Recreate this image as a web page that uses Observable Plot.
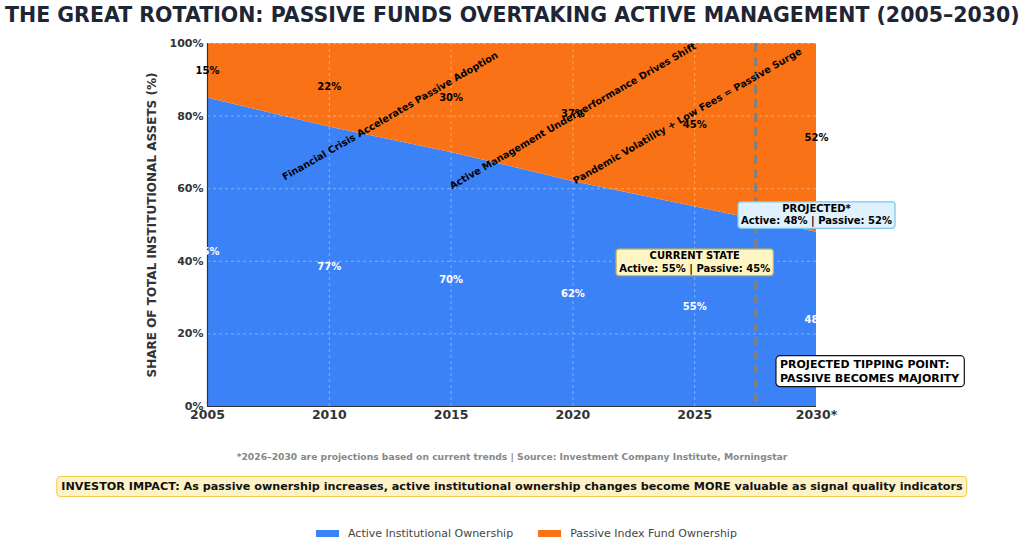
<!DOCTYPE html>
<html><head><meta charset="utf-8">
<script src="https://cdn.jsdelivr.net/npm/d3@7"></script>
<script src="https://cdn.jsdelivr.net/npm/@observablehq/plot@0.6"></script>
<style>
body{margin:0;background:#fff;font-family:"DejaVu Sans",sans-serif;}
#wrap{position:relative;width:1024px;height:553px;overflow:hidden;background:#fff;}
#title{position:absolute;left:5px;top:3px;font-size:20.5px;font-weight:bold;color:#1e2535;white-space:nowrap;}
#ylabel{position:absolute;left:152px;top:225px;transform:translate(-50%,-50%) rotate(-90deg);font-size:12px;font-weight:bold;color:#333;white-space:nowrap;}
#chart{position:absolute;left:0;top:0;}
#caption{position:absolute;left:0;width:1024px;top:451px;text-align:center;font-size:9.2px;font-weight:bold;color:#888;white-space:nowrap;}
#impact{position:absolute;left:512px;top:476px;transform:translateX(-50%);background:#fdf3c6;border:1px solid #f2c94c;border-radius:4px;padding:2px 4px;font-size:11.2px;font-weight:bold;color:#111;white-space:nowrap;line-height:15px;}
#legend{position:absolute;top:527px;left:316px;display:flex;align-items:center;font-size:11px;color:#444;white-space:nowrap;}
.sw{display:inline-block;width:23px;height:7px;margin-right:9px;}
.item{display:flex;align-items:center;margin-right:25px;}
</style></head>
<body>
<div id="wrap">
  <div id="title"></div>
  <div id="chart"></div>
  <div id="ylabel"></div>
  <div id="caption"></div>
  <div id="impact"></div>
  <div id="legend"></div>
</div>
<script>
// ---- data ----
const years = [2005, 2010, 2015, 2020, 2025, 2030];
const active = [85, 77, 70, 62, 55, 48];
const passive = [15, 22, 30, 37, 45, 52];
const xTickLabels = ["2005", "2010", "2015", "2020", "2025", "2030*"];
const yTicks = [0, 20, 40, 60, 80, 100];
const totalShare = 100;
const seriesNames = ["Active Institutional Ownership", "Passive Index Fund Ownership"];
const seriesColors = ["#3b82f6", "#f97316"];
const annotationText = [
  "Financial Crisis Accelerates Passive Adoption",
  "Active Management Underperformance Drives Shift",
  "Pandemic Volatility + Low Fees = Passive Surge"
];
const annotationYear = [2012.5, 2020, 2024.7];
const annotationShare = [80, 80, 80];
const tippingYear = 2027.5;
const currentYear = 2025, currentShare = 40;
const projectedYear = 2030, projectedShare = 53;
const tippingLabelYear = 2028.5, tippingLabelShare = 10;
const titleText = "THE GREAT ROTATION: PASSIVE FUNDS OVERTAKING ACTIVE MANAGEMENT (2005–2030)";
const yLabelText = "SHARE OF TOTAL INSTITUTIONAL ASSETS (%)";
const captionText = "*2026–2030 are projections based on current trends | Source: Investment Company Institute, Morningstar";
const impactText = "INVESTOR IMPACT: As passive ownership increases, active institutional ownership changes become MORE valuable as signal quality indicators";

// ---- build ----
const rows = years.map((y, i) => ({year: y, active: active[i], passive: passive[i]}));
const ci = years.indexOf(currentYear), pi = years.indexOf(projectedYear);

const plot = Plot.plot({
  width: 1024, height: 440,
  marginTop: 43, marginBottom: 34, marginLeft: 207, marginRight: 208,
  x: {domain: [2005, 2030]},
  y: {domain: [0, 100]},
  style: {fontFamily: "DejaVu Sans", fontWeight: "bold", color: "#333", overflow: "visible", background: "transparent"},
  marks: [
    Plot.areaY(rows, {x: "year", y1: 0, y2: "active", fill: seriesColors[0]}),
    Plot.areaY(rows, {x: "year", y1: "active", y2: totalShare, fill: seriesColors[1]}),
    Plot.ruleY(yTicks.slice(1), {stroke: "white", strokeOpacity: 0.45, strokeDasharray: "3,3", strokeWidth: 0.8}),
    Plot.ruleX(years.slice(1), {stroke: "white", strokeOpacity: 0.45, strokeDasharray: "3,3", strokeWidth: 0.8}),
    Plot.axisY({ticks: yTicks, tickFormat: d => d + "%", tickSize: 0, tickPadding: 4, fontSize: 11, label: null}),
    Plot.axisX({ticks: years, tickFormat: d => xTickLabels[years.indexOf(d)], tickSize: 0, tickPadding: 4, fontSize: 12.5, label: null}),
    Plot.ruleX([2005], {stroke: "#333", strokeWidth: 1.2}),
    Plot.ruleY([0], {stroke: "#333", strokeWidth: 1.2}),
    Plot.ruleX([tippingYear], {stroke: "#808080", strokeWidth: 3, strokeDasharray: "9,5"}),
    Plot.text(rows, {x: "year", y: d => d.active / 2, text: d => d.active + "%", fill: "white", fontSize: 10}),
    Plot.text(rows, {x: "year", y: d => d.active + d.passive / 2, text: d => d.passive + "%", fill: "black", fontSize: 10}),
    Plot.text(annotationText, {x: (d, i) => annotationYear[i], y: (d, i) => annotationShare[i], text: d => d, rotate: -30, fontSize: 9.7, fill: "black"}),
    Plot.text([`CURRENT STATE\nActive: ${active[ci]}% | Passive: ${passive[ci]}%`], {x: currentYear, y: currentShare, text: d => d, fontSize: 10, lineHeight: 1.25, fill: "black", className: "box-current"}),
    Plot.text([`PROJECTED*\nActive: ${active[pi]}% | Passive: ${passive[pi]}%`], {x: projectedYear, y: projectedShare, text: d => d, fontSize: 10, lineHeight: 1.25, fill: "black", className: "box-projected"}),
    Plot.text(["PROJECTED TIPPING POINT:\nPASSIVE BECOMES MAJORITY"], {x: tippingLabelYear, y: tippingLabelShare, text: d => d, fontSize: 11, lineHeight: 1.27, textAnchor: "start", fill: "black", className: "box-tipping"})
  ]
});
document.getElementById("chart").appendChild(plot);

function addBoxes(cls, fill, stroke, padX, padY, rx) {
  const texts = [];
  plot.querySelectorAll("." + cls).forEach(el => {
    if (el.tagName.toLowerCase() === "text") texts.push(el);
    else el.querySelectorAll("text").forEach(t => texts.push(t));
  });
  texts.forEach(t => {
    const b = t.getBBox();
    const r = document.createElementNS("http://www.w3.org/2000/svg", "rect");
    r.setAttribute("x", b.x - padX);
    r.setAttribute("y", b.y - padY);
    r.setAttribute("width", b.width + 2 * padX);
    r.setAttribute("height", b.height + 2 * padY);
    r.setAttribute("rx", rx);
    r.setAttribute("fill", fill);
    r.setAttribute("stroke", stroke);
    r.setAttribute("stroke-width", 1.2);
    const tr = t.getAttribute("transform");
    if (tr) r.setAttribute("transform", tr);
    t.parentNode.insertBefore(r, t);
  });
}
addBoxes("box-current", "#fef5c4", "#d9b84a", 3, 1, 3);
addBoxes("box-projected", "#dff1fd", "#7cc6ee", 3, 1, 3);
addBoxes("box-tipping", "#ffffff", "#111111", 4, 2, 4);

document.getElementById("title").textContent = titleText;
document.getElementById("ylabel").textContent = yLabelText;
document.getElementById("caption").textContent = captionText;
document.getElementById("impact").textContent = impactText;
const lg = document.getElementById("legend");
seriesNames.forEach((n, i) => {
  const it = document.createElement("div"); it.className = "item";
  const sw = document.createElement("span"); sw.className = "sw"; sw.style.background = seriesColors[i];
  it.appendChild(sw); it.appendChild(document.createTextNode(n)); lg.appendChild(it);
});
</script>
</body></html>
